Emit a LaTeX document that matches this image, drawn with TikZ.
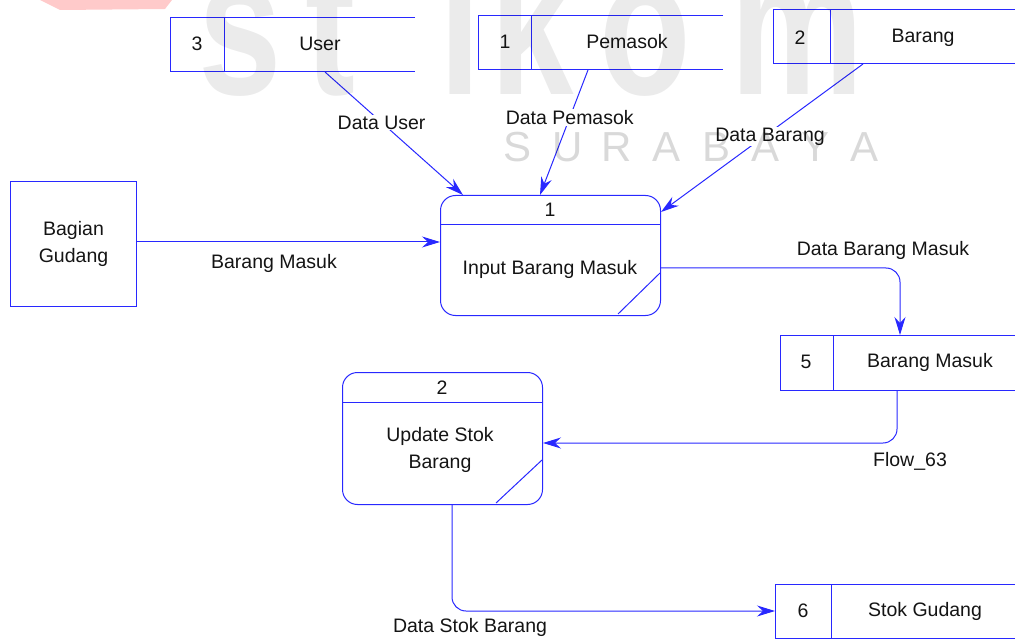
\documentclass[tikz,border=0pt]{standalone}
\usepackage{fontspec}
\setmainfont{Liberation Sans}
\usetikzlibrary{arrows.meta}
\definecolor{dfd}{RGB}{40,40,255}
\definecolor{txt}{RGB}{20,20,20}
\newcommand\fs{\fontsize{19.5}{27}\selectfont}
\tikzset{
  dfdline/.style={draw=dfd, line width=1pt},
  flow/.style={dfdline, -{Stealth[length=18pt,width=11pt,inset=6pt]}},
  lbl/.style={font=\fs, text=txt, inner sep=1pt},
  lblw/.style={lbl, fill=white},
  box/.style={dfdline, rectangle, minimum width=#1, inner sep=0pt, anchor=north west},
  proc/.style={dfdline, rectangle, rounded corners=15pt, inner sep=0pt, anchor=north west},
  wmark/.style={text=black, opacity=0.08, inner sep=0pt, anchor=base},
  wsub/.style={text=black, opacity=0.15, inner sep=0pt, font=\fontsize{42}{42}\selectfont},
}
\begin{document}
\begin{tikzpicture}[x=1pt,y=-1pt]
\useasboundingbox (0,0) rectangle (1015,639);

% ---------- data stores ----------
% store 3 User
\path (170,18) coordinate (s3nw) (415,72) coordinate (s3se);
\draw[dfdline] (s3se |- s3nw) -- (s3nw) -- (s3nw |- s3se) -- (s3se);
\draw[dfdline] (224,18) -- (224,72);
\node[lbl] (s3n) at (197,44) {3};
\node[lbl] (s3) at (320,44) {User};
% store 1 Pemasok
\path (478,16) coordinate (s1nw) (723,70) coordinate (s1se);
\draw[dfdline] (s1se |- s1nw) -- (s1nw) -- (s1nw |- s1se) -- (s1se);
\draw[dfdline] (531,16) -- (531,70);
\node[lbl] (s1n) at (505,42) {1};
\node[lbl] (s1) at (627,42) {Pemasok};
% store 2 Barang
\path (773,10) coordinate (s2nw) (1016,64) coordinate (s2se);
\draw[dfdline] (s2se |- s2nw) -- (s2nw) -- (s2nw |- s2se) -- (s2se);
\draw[dfdline] (830,10) -- (830,64);
\node[lbl] (s2n) at (800,38) {2};
\node[lbl] (s2) at (923,38) {Barang};
% store 5 Barang Masuk
\path (780,335) coordinate (s5nw) (1016,390) coordinate (s5se);
\draw[dfdline] (s5se |- s5nw) -- (s5nw) -- (s5nw |- s5se) -- (s5se);
\draw[dfdline] (833,335) -- (833,390);
\node[lbl] (s5n) at (806,362) {5};
\node[lbl] (s5) at (930,362) {Barang Masuk};
% store 6 Stok Gudang
\path (775,584) coordinate (s6nw) (1016,638) coordinate (s6se);
\draw[dfdline] (s6se |- s6nw) -- (s6nw) -- (s6nw |- s6se) -- (s6se);
\draw[dfdline] (831,584) -- (831,638);
\node[lbl] (s6n) at (803,611) {6};
\node[lbl] (s6) at (925,611) {Stok Gudang};

% ---------- external entity ----------
\node[box=126pt, minimum height=125pt] (ent) at (10,181) {};
\node[lbl, align=center] at (ent.center) {Bagian\\Gudang};

% ---------- processes ----------
\node[proc, minimum width=220pt, minimum height=120pt] (p1) at (440,195) {};
\draw[dfdline] (440,225) -- (660,225);
\draw[dfdline] (618,314) -- (660,273);
\node[lbl] at (550,210) {1};
\node[lbl] at (550,269) {Input Barang Masuk};

\node[proc, minimum width=200pt, minimum height=132pt] (p2) at (342,372) {};
\draw[dfdline] (342,402) -- (542,402);
\draw[dfdline] (496,503) -- (542,460);
\node[lbl] at (442,388) {2};
\node[lbl, align=center] at (440,450) {Update Stok\\Barang};

% ---------- flows ----------
\draw[flow] ([xshift=155pt]s3nw |- s3se) -- ([xshift=23pt]p1.north west)
  node[lblw, pos=0.41] {Data User};
\draw[flow] ([xshift=110pt]s1nw |- s1se) -- ([xshift=100pt]p1.north west)
  node[lblw, pos=0.38] {Data Pemasok};
\draw[flow] ([xshift=90pt]s2nw |- s2se) -- ([yshift=-17pt]p1.north east)
  node[lblw, pos=0.49, xshift=6pt] {Data Barang};
\draw[flow] (ent.east |- 0,242) -- (p1.west |- 0,242);
\node[lbl] at (274,263) {Barang Masuk};
\draw[flow, rounded corners=14pt] (p1.east |- 0,268) -| ([xshift=120pt]s5nw);
\node[lbl] at (883,250) {Data Barang Masuk};
\draw[flow, rounded corners=14pt] ([xshift=117pt]s5nw |- s5se) |- (p2.east |- 0,443);
\node[lbl] at (910,461) {Flow\_63};
\draw[flow, rounded corners=14pt] ([xshift=110pt]p2.south west) |- (s6nw |- 0,611);
\node[lbl] at (470,627) {Data Stok Barang};

% ---------- watermark ----------
\fill[red!60!white, opacity=0.35] (40,0) -- (172,0) -- (165,9) -- (60,10) -- cycle;
\begin{scope}[font=\bfseries\fontsize{200}{200}\selectfont]
\node[wmark, xscale=0.75] at (240,95) {s};
\node[wmark, xscale=0.75] at (330,95) {t};
\node[wmark, xscale=0.75] at (460,95) {i};
\node[wmark, xscale=0.75] at (532,95) {k};
\node[wmark, xscale=0.75] at (645,95) {o};
\node[wmark, xscale=0.75] at (797,95) {m};
\end{scope}
\foreach \ch [count=\i from 0] in {S,U,R,A,B,A,Y,A}
  \node[wsub] at (518+49.5*\i,147) {\ch};
\end{tikzpicture}
\end{document}
